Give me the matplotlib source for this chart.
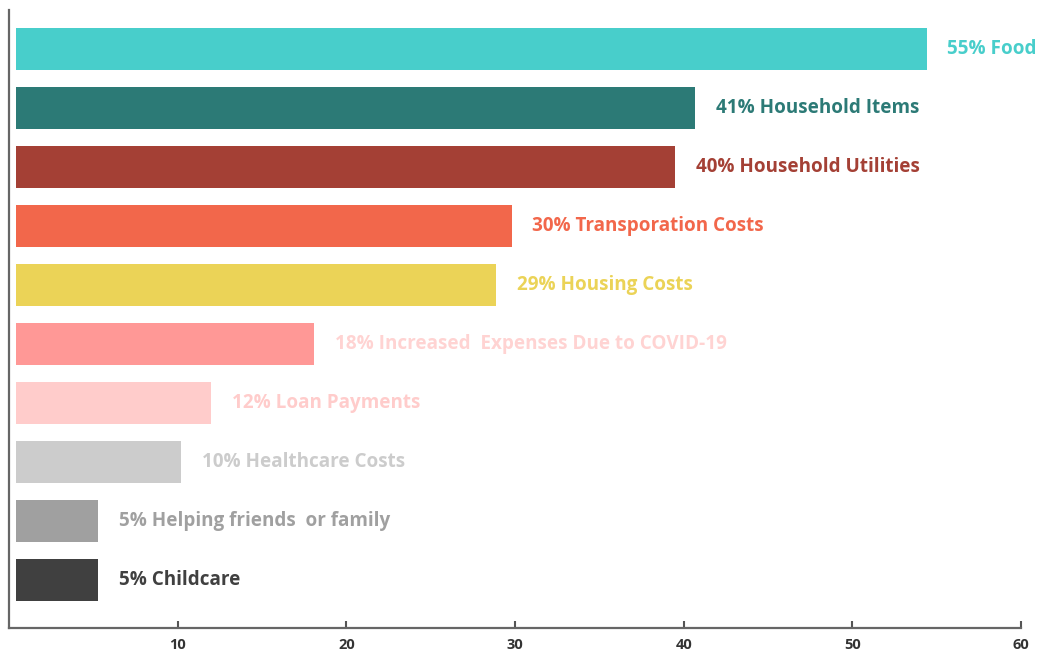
import matplotlib
matplotlib.use('Agg')
import matplotlib.pyplot as plt
import numpy as np

labels = ['55% Food', '41% Household Items', '40% Household Utilities',
          '30% Transporation Costs', '29% Housing Costs',
          '18% Increased  Expenses Due to COVID-19', '12% Loan Payments',
          '10% Healthcare Costs', '5% Helping friends  or family', '5% Childcare']
values = [54.4, 40.7, 39.5, 29.8, 28.9, 18.1, 12.0, 10.2, 5.3, 5.3]
bar_colors = ['#48CECB', '#2C7A76', '#A44035', '#F2674B', '#EBD357',
              '#FF9896', '#FFCCCB', '#CCCCCC', '#A0A0A0', '#404040']
text_colors = ['#48CECB', '#2C7A76', '#A44035', '#F2674B', '#EBD357',
               '#FFD3D2', '#FFCCCB', '#CCCCCC', '#A0A0A0', '#404040']
xticks = [10, 20, 30, 40, 50, 60]

fig = plt.figure(figsize=(10.46, 6.52), dpi=100)
ax = fig.add_axes([9/1046, 1 - 628/652, (1021 - 9)/1046, (628 - 10)/652])

start = 0.4
y = np.arange(len(values))
ax.barh(y, np.array(values) - start, left=start, height=0.71, color=bar_colors)

for i, (v, lab, c) in enumerate(zip(values, labels, text_colors)):
    ax.annotate(lab, xy=(v, i), xytext=(15, 0), textcoords='offset points',
                va='center', ha='left', color=c, fontsize=13.6,
                fontweight='bold', family='Open Sans')

ax.set_xlim(0, 60)
ax.set_ylim(9.81, -0.66)
ax.set_yticks([])
ax.set_xticks(xticks)
ax.set_xticklabels([str(t) for t in xticks], fontsize=10.5, fontweight='bold',
                   color='#333333', family='Open Sans')
ax.tick_params(axis='x', direction='in', length=5, width=1.5, color='#555555', pad=7)
for s in ['top', 'right']:
    ax.spines[s].set_visible(False)
for s in ['left', 'bottom']:
    ax.spines[s].set_linewidth(1.6)
    ax.spines[s].set_color('#666666')

plt.savefig('out.png', dpi=100)
